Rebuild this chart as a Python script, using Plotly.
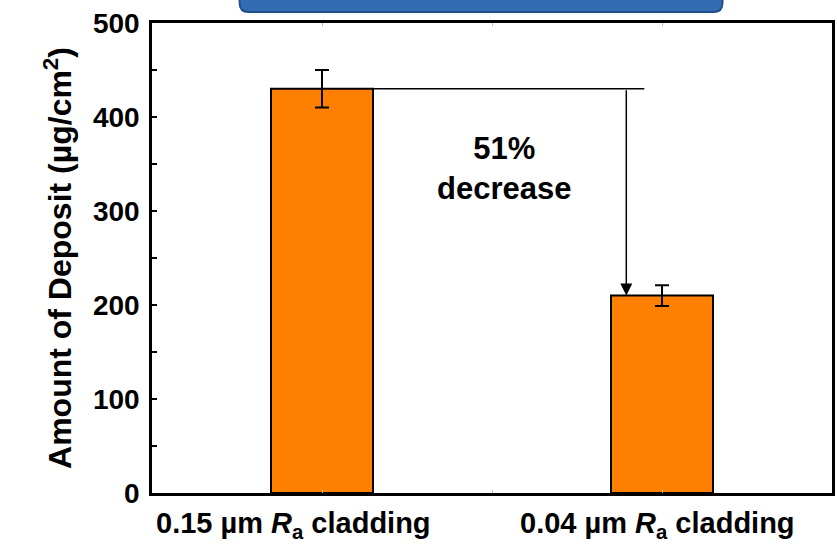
import plotly.graph_objects as go

categories = ["0.15 µm <i>R</i><sub>a</sub> cladding", "0.04 µm <i>R</i><sub>a</sub> cladding"]
x_pos = [1, 2]
deposit = [430, 210]
err = [20, 11]
y_ticks = [0, 100, 200, 300, 400, 500]

FONT = "Liberation Sans, Arial, sans-serif"

fig = go.Figure()
fig.add_trace(go.Bar(
    x=x_pos, y=deposit, width=0.30,
    marker=dict(color="#FF8000", line=dict(color="black", width=2)),
    error_y=dict(type="data", array=err, visible=True, color="black", thickness=2, width=7),
    showlegend=False,
))

# horizontal reference line at the first bar's level
fig.add_shape(type="line", xref="x", yref="y", x0=1.15, x1=1.948, y0=deposit[0], y1=deposit[0],
              line=dict(color="black", width=1.5))
# arrow down to second bar
fig.add_annotation(x=1.895, y=deposit[1], ax=1.895, ay=deposit[0], xref="x", yref="y",
                   axref="x", ayref="y", showarrow=True, arrowhead=2, arrowsize=1.6,
                   arrowwidth=1.5, arrowcolor="black", text="")
fig.add_annotation(x=1.534, y=345, xref="x", yref="y", showarrow=False,
                   text="<b>51%<br>decrease</b>", font=dict(family=FONT, size=31, color="black"),
                   align="center")

# category labels
label_x = [0.916, 1.988]
for lx, lab in zip(label_x, categories):
    fig.add_annotation(x=lx, y=-0.068, xref="x", yref="paper", showarrow=False,
                       text="<b>" + lab + "</b>", font=dict(family=FONT, size=29, color="black"),
                       yanchor="middle")

# blue rounded box at top (partially visible)
x0p, x1p = (240 - 152) / 683, (725 - 152) / 683
y0p, y1p = (493 - 12) / 470, (493 + 20) / 470
rx, ry = 9 / 683, 9 / 470
path = (f"M {x0p} {y1p} L {x0p} {y0p+ry} Q {x0p} {y0p} {x0p+rx} {y0p} "
        f"L {x1p-rx} {y0p} Q {x1p} {y0p} {x1p} {y0p+ry} L {x1p} {y1p} Z")
fig.add_shape(type="path", xref="paper", yref="paper", path=path,
              fillcolor="#346CB3", line=dict(color="#1F4E8C", width=2))

fig.update_layout(
    width=837, height=546,
    margin=dict(l=152, r=2, t=23, b=53),
    plot_bgcolor="white", paper_bgcolor="white",
    font=dict(family=FONT, color="black"),
    xaxis=dict(range=[0.5, 2.5], showgrid=False, zeroline=False, showline=True,
               linecolor="black", linewidth=2.5, mirror="ticks",
               tickmode="linear", tick0=0.5, dtick=0.5, ticks="inside", ticklen=3,
               tickcolor="#BBBBBB", tickwidth=1, showticklabels=False),
    yaxis=dict(range=[0, 500], showgrid=False, zeroline=False, showline=True,
               linecolor="black", linewidth=2.5, mirror=True,
               tickvals=y_ticks, ticks="inside", ticklen=5, tickwidth=2, tickcolor="black",
               minor=dict(dtick=50, ticks="inside", ticklen=5, tickwidth=2, tickcolor="black"),
               tickfont=dict(family=FONT, size=28, color="black", weight="bold"),
               ticklabelstandoff=4,
               title=dict(text="<b>Amount of Deposit (µg/cm<sup>2</sup>)</b>",
                          font=dict(family=FONT, size=32, color="black"), standoff=12)),
)

fig.write_html("out.html")
